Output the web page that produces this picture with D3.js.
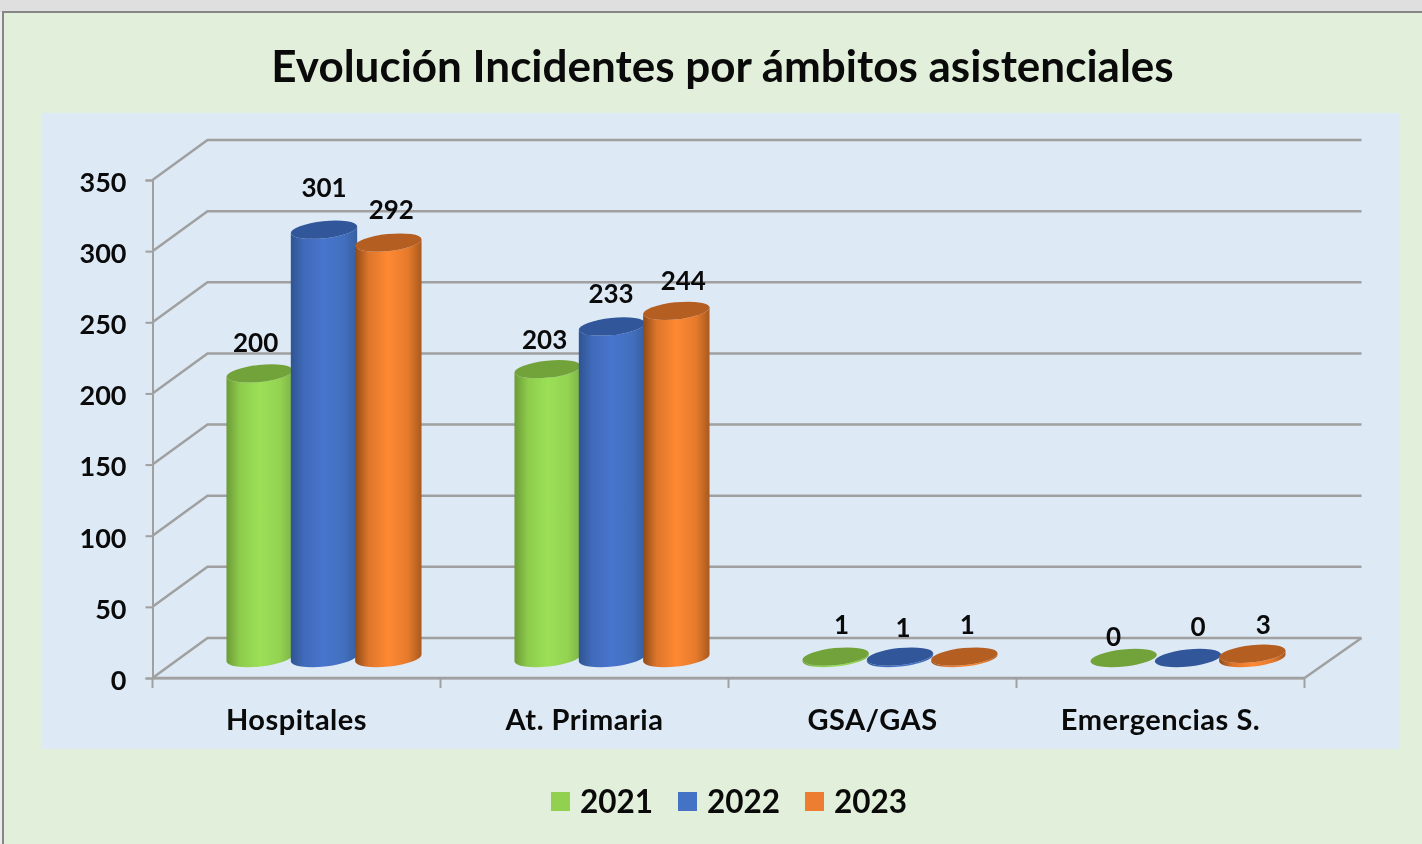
<!DOCTYPE html>
<html>
<head>
<meta charset="utf-8">
<script src="https://cdn.jsdelivr.net/npm/d3@7"></script>
<style>
  html, body { margin: 0; padding: 0; background: #e2efda; overflow: hidden; }
  svg { display: block; filter: blur(0.45px); }
  text { font-family: Lato, "Open Sans", sans-serif; font-weight: 700; fill: #0a0a0a; }
</style>
</head>
<body>
<svg id="chart" width="1422" height="844"></svg>
<script>
const categories = ["Hospitales", "At. Primaria", "GSA/GAS", "Emergencias S."];
const years = ["2021", "2022", "2023"];
const values2021 = [200, 203, 1, 0];
const values2022 = [301, 233, 1, 0];
const values2023 = [292, 244, 1, 3];
const yTicks = [0, 50, 100, 150, 200, 250, 300, 350];

// label nudges (px), office places these by hand so there is no single offset
const labelNudgeX = [[-4, -3, 6, -10], [0, -1, 3, 10], [3, 7, 3, 11]];
const labelNudgeY = [[-31, -30, -33, -22], [-43, -33, -30, -32], [-34, -31, -33, -30]];

const seriesValues = { "2021": values2021, "2022": values2022, "2023": values2023 };

const colors = {
    "2021": { edgeL: "#6c9b36", mid: "#9be056", edgeR: "#7fb344", top: "#72a33a", swatch: "#92d050" },
    "2022": { edgeL: "#2f5491", mid: "#4775cd", edgeR: "#37609f", top: "#31569a", swatch: "#4472c4" },
    "2023": { edgeL: "#8f4a17", mid: "#ff8833", edgeR: "#a9591d", top: "#b55e22", swatch: "#ed7d31" }
};

const gridColor = "#a0a0a0";
const depthX = 55, depthY = 40;
const tilt = 6;
const ry = 8.5;

const svg = d3.select("#chart");

// page frame
svg.append("rect").attr("width", 1422).attr("height", 844).attr("fill", "#e2efda");
svg.append("rect").attr("width", 1422).attr("height", 12).attr("fill", "#dfdfdf");
svg.append("rect").attr("x", 0).attr("y", 12).attr("width", 2).attr("height", 832).attr("fill", "#ececec");
svg.append("path").attr("d", "M3,844V12H1422").attr("fill", "none").attr("stroke", "#868686").attr("stroke-width", 2);
svg.append("rect").attr("x", 41).attr("y", 113).attr("width", 1359).attr("height", 636).attr("fill", "#dde9f5");

svg.append("text")
    .attr("x", 722.5).attr("y", 82)
    .attr("text-anchor", "middle")
    .style("font-size", "44px")
    .text("Evolución Incidentes por ámbitos asistenciales");

const x0 = d3.scaleBand().domain(categories).range([152.5, 1304.5]);
const x1 = d3.scaleBand().domain(years).range([0, 193]);
const y = d3.scaleLinear().domain([0, 350]).range([678, 180]);
const rx = x1.bandwidth() / 2 + 1.2;

// walls and floor
const grid = svg.append("g").attr("fill", "none").attr("stroke", gridColor).attr("stroke-width", 2.5);
yTicks.forEach(t => {
    grid.append("path").attr("d", d3.line()([
        [x0.range()[0], y(t)],
        [x0.range()[0] + depthX, y(t) - depthY],
        [x0.range()[1] + depthX + 2, y(t) - depthY]
    ]));
});
grid.append("path").attr("d", d3.line()([
    [x0.range()[0], y(0)],
    [x0.range()[1], y(0)],
    [x0.range()[1] + depthX + 2, y(0) - depthY]
]));

// axes
const yAxis = svg.append("g")
    .attr("transform", `translate(${x0.range()[0]},0)`)
    .call(d3.axisLeft(y).tickValues(yTicks).tickSize(7).tickPadding(19));
const xAxis = svg.append("g")
    .attr("transform", `translate(0,${y(0)})`)
    .call(d3.axisBottom(x0).tickSize(0).tickPadding(31));
[yAxis, xAxis].forEach(a => {
    a.selectAll("path, line").attr("stroke", gridColor).attr("stroke-width", 2);
    a.attr("font-family", null).attr("font-size", null);
});
yAxis.selectAll("text").style("font-size", "27px").attr("dy", "0.42em");
xAxis.selectAll("text").style("font-size", "29px").style("letter-spacing", "0.5px");
d3.range(categories.length + 1).forEach(i => {
    const xt = x0.range()[0] + i * x0.step();
    xAxis.append("line")
        .attr("x1", xt).attr("x2", xt).attr("y1", 0).attr("y2", 10)
        .attr("stroke", gridColor).attr("stroke-width", 2);
});

// cylinder shading
const defs = svg.append("defs");
years.forEach(yr => {
    const g = defs.append("linearGradient").attr("id", "grad" + yr);
    const c = colors[yr];
    [[0, c.edgeL], [0.2, d3.interpolateRgb(c.edgeL, c.mid)(0.7)], [0.5, c.mid], [0.8, d3.interpolateRgb(c.edgeR, c.mid)(0.7)], [1, c.edgeR]]
        .forEach(s => g.append("stop").attr("offset", s[0]).attr("stop-color", s[1]));
});

const dx = rx * Math.cos(tilt * Math.PI / 180);
const dy = rx * Math.sin(tilt * Math.PI / 180);

function cylinderSide(cx, yTop, yBase) {
    return `M${cx - dx},${yTop + dy}` +
        `L${cx - dx},${yBase + dy}` +
        `A${rx},${ry} ${-tilt} 0 0 ${cx + dx},${yBase - dy}` +
        `L${cx + dx},${yTop - dy}` +
        `A${rx},${ry} ${-tilt} 0 1 ${cx - dx},${yTop + dy}Z`;
}

function barCenter(cat, yr) {
    return x0(cat) + x0.bandwidth() / 2 + depthX / 2 + x1(yr) - 96.5 + x1.bandwidth() / 2;
}

// bars, left to right so the later series overlaps the earlier one
categories.forEach((cat, i) => {
    years.forEach(yr => {
        const v = seriesValues[yr][i];
        const cx = barCenter(cat, yr);
        const yBase = y(0) - depthY / 2;
        const yTop = y(v) - depthY / 2;
        const bar = svg.append("g").attr("class", "bar");
        bar.append("path")
            .attr("d", cylinderSide(cx, yTop, yBase))
            .attr("fill", `url(#grad${yr})`);
        bar.append("ellipse")
            .attr("rx", rx).attr("ry", ry)
            .attr("transform", `translate(${cx},${yTop}) rotate(${-tilt})`)
            .attr("fill", colors[yr].top);
    });
});

// value labels go on top of all the bars
categories.forEach((cat, i) => {
    years.forEach((yr, s) => {
        const v = seriesValues[yr][i];
        svg.append("text")
            .attr("x", barCenter(cat, yr) + labelNudgeX[s][i])
            .attr("y", y(v) - depthY / 2 + labelNudgeY[s][i])
            .attr("text-anchor", "middle")
            .attr("dominant-baseline", "central")
            .style("font-size", "26px")
            .text(v);
    });
});

// legend
const legendX = d3.scaleOrdinal().domain(years).range([551, 678, 805]);
const legend = svg.append("g").selectAll("g").data(years).join("g")
    .attr("transform", d => `translate(${legendX(d)},792)`);
legend.append("rect").attr("width", 19).attr("height", 19).attr("fill", d => colors[d].swatch);
legend.append("text")
    .attr("x", 29).attr("y", 21)
    .style("font-size", "31.5px")
    .text(d => d);
</script>
</body>
</html>
